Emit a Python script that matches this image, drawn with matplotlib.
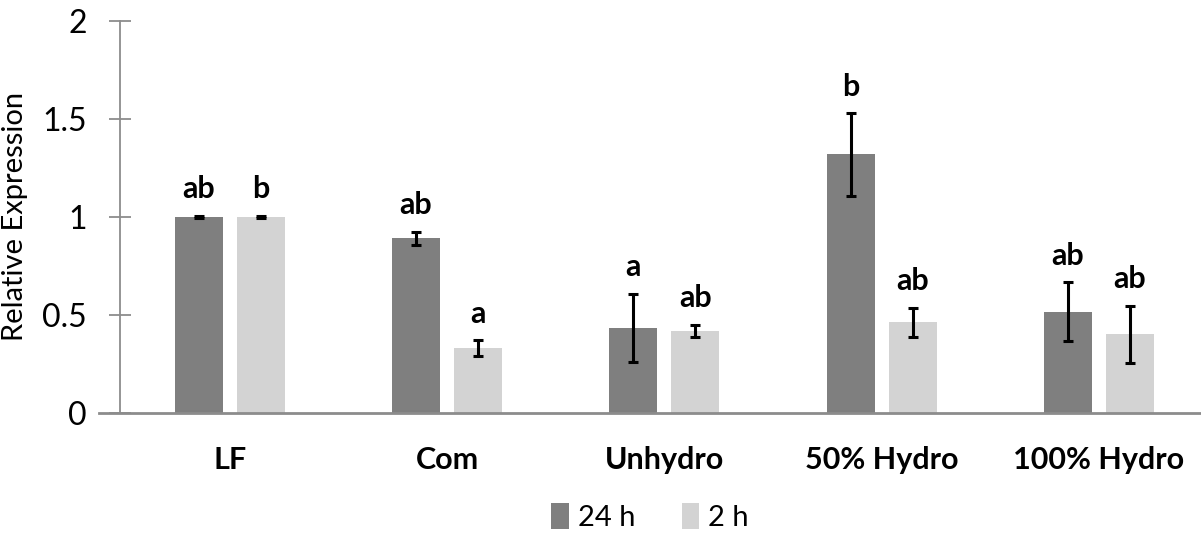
import matplotlib
matplotlib.use("Agg")
import matplotlib.pyplot as plt
import numpy as np

categories = ["LF", "Com", "Unhydro", "50% Hydro", "100% Hydro"]
series_names = ["24 h", "2 h"]
vals_24h = [1.00, 0.89, 0.434, 1.318, 0.515]
err_24h = [0.005, 0.032, 0.173, 0.21, 0.15]
vals_2h = [1.00, 0.329, 0.418, 0.461, 0.40]
err_2h = [0.005, 0.04, 0.03, 0.075, 0.146]
letters_24h = ["ab", "ab", "a", "b", "ab"]
letters_2h = ["b", "a", "ab", "ab", "ab"]
yticks = [0, 0.5, 1, 1.5, 2]
ytick_labels = ["0", "0.5", "1", "1.5", "2"]

plt.rcParams['font.family'] = ['Lato', 'DejaVu Sans']

W, H = 1201, 533
fig = plt.figure(figsize=(W / 100, H / 100), dpi=100)
ax = fig.add_axes([120 / W, (H - 412.7) / H, (W - 120) / W, (412.7 - 20.7) / H])

x = np.arange(len(categories))
bw = 0.221
off = 0.143
c_dark = "#7f7f7f"
c_light = "#d3d3d3"

b1 = ax.bar(x - off, vals_24h, bw, color=c_dark, label=series_names[0], zorder=2)
b2 = ax.bar(x + off, vals_2h, bw, color=c_light, label=series_names[1], zorder=2)
ekw = dict(fmt="none", ecolor="black", elinewidth=2.2, capsize=3.5, capthick=2.2, zorder=3)
ax.errorbar(x - off, vals_24h, yerr=err_24h, **ekw)
ax.errorbar(x + off, vals_2h, yerr=err_2h, **ekw)

for xi, v, e, t in zip(x - off, vals_24h, err_24h, letters_24h):
    ax.annotate(t, (xi, v + e), xytext=(0, 9), textcoords="offset points",
                ha="center", va="bottom", fontsize=22, fontweight="bold")
for xi, v, e, t in zip(x + off, vals_2h, err_2h, letters_2h):
    ax.annotate(t, (xi, v + e), xytext=(0, 9), textcoords="offset points",
                ha="center", va="bottom", fontsize=22, fontweight="bold")

ax.set_ylim(0, 2)
ax.set_xlim(-0.505, 4.47)
ax.set_yticks(yticks)
ax.set_yticklabels(ytick_labels, fontsize=23)
ax.set_xticks(x)
ax.set_xticklabels(categories, fontsize=22, fontweight="bold")
ax.tick_params(axis="x", length=0, pad=24)
ax.tick_params(axis="y", direction="inout", length=16, width=1.3, color="#8c8c8c", pad=16)

for s in ["top", "right"]:
    ax.spines[s].set_visible(False)
ax.spines["left"].set_color("#8c8c8c")
ax.spines["left"].set_linewidth(1.3)
ax.spines["bottom"].set_color("#8c8c8c")
ax.spines["bottom"].set_linewidth(2)
ax.spines["bottom"].set_bounds(-0.6, 4.47)
ax.spines["bottom"].set_clip_on(False)

ax.set_ylabel("Relative Expression", fontsize=21)
ax.yaxis.set_label_coords(-92 / (W - 120), 0.5)

leg = fig.legend(handles=[b1, b2], labels=series_names, loc="center",
                 bbox_to_anchor=(650 / W, 1 - 517 / H), ncol=2, frameon=False,
                 fontsize=21, handlelength=0.6, handleheight=1.0, handletextpad=0.3,
                 columnspacing=1.6)

fig.savefig("out.png", dpi=100)
